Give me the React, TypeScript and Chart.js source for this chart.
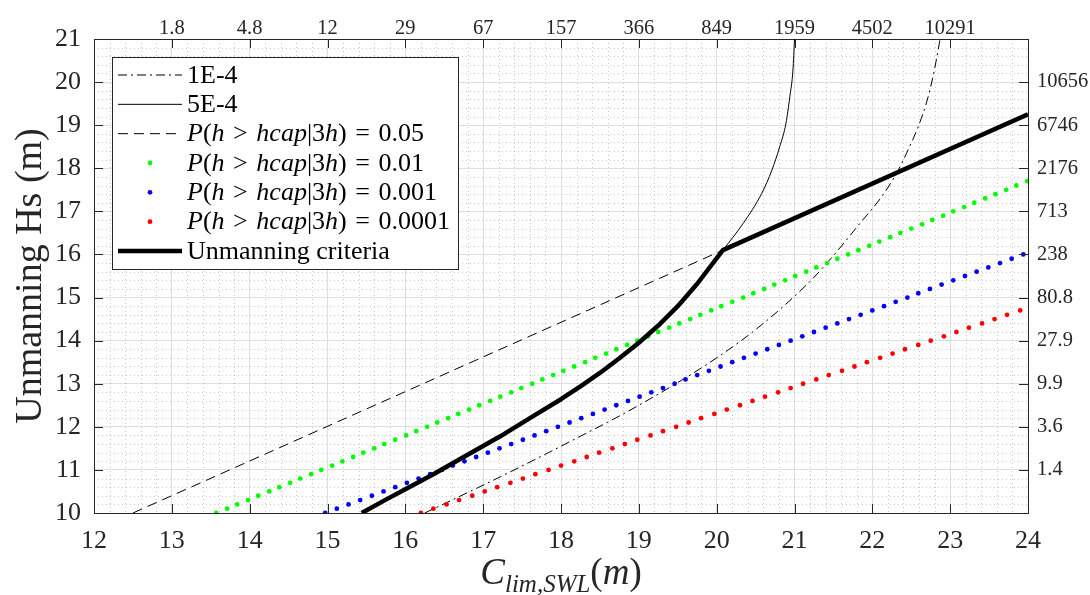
import React, { useEffect, useRef } from "react";
import { Chart, registerables } from "chart.js";

Chart.register(...registerables);

// ---------- axis ranges & tick labels ----------
const X_MIN = 12;
const X_MAX = 24;
const Y_MIN = 10;
const Y_MAX = 21;

const TOP_TICK_POS = [13, 14, 15, 16, 17, 18, 19, 20, 21, 22, 23];
const TOP_TICK_LABELS = ["1.8", "4.8", "12", "29", "67", "157", "366", "849", "1959", "4502", "10291"];
const RIGHT_TICK_POS = [11, 12, 13, 14, 15, 16, 17, 18, 19, 20];
const RIGHT_TICK_LABELS = ["1.4", "3.6", "9.9", "27.9", "80.8", "238", "713", "2176", "6746", "10656"];

// ---------- series ----------
// 1E-4 (dash-dot)
const P1E4_C = [16.25, 17.22, 18.0, 19.0, 20.0, 20.6, 21.24, 21.54, 21.84, 22.12, 22.31, 22.44, 22.59, 22.7, 22.78, 22.83, 22.87];
const P1E4_HS = [10, 10.84, 11.55, 12.5, 13.6, 14.4, 15.45, 16.06, 16.72, 17.34, 17.88, 18.35, 18.97, 19.55, 20.13, 20.59, 21.0];

// 5E-4 (thin solid)
const P5E4_C = [15.44, 15.75, 16.0, 16.36, 16.75, 17.22, 17.6, 18.0, 18.25, 18.5, 18.75, 19.0, 19.25, 19.5, 19.75, 20.08, 20.34, 20.58, 20.71, 20.81, 20.89, 20.94, 20.98, 21.0];
const P5E4_HS = [10, 10.31, 10.55, 10.9, 11.3, 11.78, 12.2, 12.64, 12.94, 13.25, 13.59, 13.95, 14.35, 14.8, 15.32, 16.1, 16.72, 17.42, 17.96, 18.5, 19.04, 19.66, 20.28, 21.0];

// P = 0.05 (dashed)
const P005_C = [12.5, 20.08];
const P005_HS = [10, 16.1];

// Hs levels of the dotted series
const HS_LEVELS = [
  10.0, 10.1, 10.2, 10.3, 10.4, 10.5, 10.6, 10.7, 10.8, 10.9,
  11.0, 11.1, 11.2, 11.3, 11.4, 11.5, 11.6, 11.7, 11.8, 11.9,
  12.0, 12.1, 12.2, 12.3, 12.4, 12.5, 12.6, 12.7, 12.8, 12.9,
  13.0, 13.1, 13.2, 13.3, 13.4, 13.5, 13.6, 13.7, 13.8, 13.9,
  14.0, 14.1, 14.2, 14.3, 14.4, 14.5, 14.6, 14.7, 14.8, 14.9,
  15.0, 15.1, 15.2, 15.3, 15.4, 15.5, 15.6, 15.7, 15.8, 15.9,
  16.0, 16.1, 16.2, 16.3, 16.4, 16.5, 16.6, 16.7, 16.8, 16.9,
  17.0, 17.1, 17.2, 17.3, 17.4, 17.5, 17.6, 17.7,
];

// P = 0.01 (green dots)
const P001_C = [
  13.57, 13.71, 13.84, 13.98, 14.11, 14.25, 14.38, 14.52, 14.65, 14.79,
  14.92, 15.06, 15.19, 15.33, 15.46, 15.6, 15.73, 15.87, 16.01, 16.14,
  16.28, 16.41, 16.55, 16.68, 16.82, 16.95, 17.09, 17.22, 17.36, 17.49,
  17.63, 17.76, 17.9, 18.03, 18.17, 18.31, 18.44, 18.58, 18.71, 18.85,
  18.98, 19.12, 19.25, 19.39, 19.52, 19.66, 19.79, 19.93, 20.06, 20.2,
  20.34, 20.47, 20.61, 20.74, 20.88, 21.01, 21.15, 21.28, 21.42, 21.55,
  21.69, 21.82, 21.96, 22.09, 22.23, 22.36, 22.5, 22.64, 22.77, 22.91,
  23.04, 23.18, 23.31, 23.45, 23.58, 23.72, 23.85, 23.99,
];

// P = 0.001 (blue dots)
const P0001_C = [
  14.97, 15.12, 15.27, 15.42, 15.57, 15.72, 15.87, 16.02, 16.17, 16.32,
  16.47, 16.61, 16.76, 16.91, 17.06, 17.21, 17.36, 17.51, 17.66, 17.81,
  17.96, 18.11, 18.26, 18.41, 18.56, 18.71, 18.86, 19.01, 19.16, 19.31,
  19.46, 19.6, 19.75, 19.9, 20.05, 20.2, 20.35, 20.5, 20.65, 20.8,
  20.95, 21.1, 21.25, 21.4, 21.55, 21.7, 21.85, 22.0, 22.15, 22.3,
  22.45, 22.59, 22.74, 22.89, 23.04, 23.19, 23.34, 23.49, 23.64, 23.79,
  23.94,
];

// P = 0.0001 (red dots)
const P00001_C = [
  16.2, 16.36, 16.53, 16.69, 16.86, 17.02, 17.18, 17.35, 17.51, 17.67,
  17.84, 18.0, 18.17, 18.33, 18.49, 18.66, 18.82, 18.98, 19.15, 19.31,
  19.48, 19.64, 19.8, 19.97, 20.13, 20.3, 20.46, 20.62, 20.79, 20.95,
  21.11, 21.28, 21.44, 21.61, 21.77, 21.93, 22.1, 22.26, 22.42, 22.59,
  22.75, 22.92, 23.08, 23.24, 23.41, 23.57, 23.73, 23.9,
];

// Unmanning criteria (thick)
const UNMAN_C = [15.44, 15.75, 16.0, 16.36, 16.75, 17.22, 17.6, 18.0, 18.25, 18.5, 18.75, 19.0, 19.25, 19.5, 19.75, 20.08, 24.0];
const UNMAN_HS = [10, 10.31, 10.55, 10.9, 11.3, 11.78, 12.2, 12.64, 12.94, 13.25, 13.59, 13.95, 14.35, 14.8, 15.32, 16.1, 19.25];

// ---------- styles ----------
const FONT = "'Liberation Serif', 'Times New Roman', serif";
const AXIS_COLOR = "#262626";

const zip = (xs: number[], ys: number[]) => xs.map((x, i) => ({ x, y: ys[i] }));

function drawRich(ctx: CanvasRenderingContext2D, text: string, x: number, y: number, size: number, math: boolean) {
  if (!math) {
    ctx.font = `${size}px ${FONT}`;
    ctx.fillText(text, x, y);
    return;
  }
  const parts = text.match(/[A-Za-z]+|[^A-Za-z]+/g) || [];
  let cx = x;
  for (const p of parts) {
    const it = /[A-Za-z]/.test(p);
    ctx.font = `${it ? "italic " : ""}${size}px ${FONT}`;
    if (it) {
      ctx.fillText(p, cx, y);
      cx += ctx.measureText(p).width;
    } else {
      for (const ch of p) {
        if (ch === " ") {
          cx += size * 0.33;
        } else {
          ctx.fillText(ch, cx, y);
          cx += ctx.measureText(ch).width;
        }
      }
    }
  }
}

const decorPlugin = {
  id: "decor",
  beforeDatasetsDraw(chart: any) {
    const { ctx, chartArea: a, scales } = chart;
    const xs = scales.x;
    const ys = scales.y;
    ctx.save();
    ctx.strokeStyle = "rgba(38,38,38,0.24)";
    ctx.lineWidth = 1;
    ctx.setLineDash([1, 3]);
    for (let v = X_MIN; v < X_MAX; v += 1) {
      for (let k = 1; k < 5; k++) {
        const px = Math.round(xs.getPixelForValue(v + k * 0.2)) + 0.5;
        ctx.beginPath();
        ctx.moveTo(px, a.top);
        ctx.lineTo(px, a.bottom);
        ctx.stroke();
      }
    }
    for (let v = Y_MIN; v < Y_MAX; v += 1) {
      for (let k = 1; k < 5; k++) {
        const py = Math.round(ys.getPixelForValue(v + k * 0.2)) + 0.5;
        ctx.beginPath();
        ctx.moveTo(a.left, py);
        ctx.lineTo(a.right, py);
        ctx.stroke();
      }
    }
    ctx.restore();
  },
  afterDatasetsDraw(chart: any) {
    const { ctx, chartArea: a, scales } = chart;
    const xs = scales.x;
    const ys = scales.y;
    const TL = 9;
    ctx.save();
    ctx.strokeStyle = AXIS_COLOR;
    ctx.lineWidth = 1;
    ctx.setLineDash([]);
    for (let v = X_MIN + 1; v < X_MAX; v += 1) {
      const px = Math.round(xs.getPixelForValue(v)) + 0.5;
      ctx.beginPath();
      ctx.moveTo(px, a.bottom);
      ctx.lineTo(px, a.bottom - TL);
      ctx.moveTo(px, a.top);
      ctx.lineTo(px, a.top + TL);
      ctx.stroke();
    }
    for (let v = Y_MIN + 1; v < Y_MAX; v += 1) {
      const py = Math.round(ys.getPixelForValue(v)) + 0.5;
      ctx.beginPath();
      ctx.moveTo(a.left, py);
      ctx.lineTo(a.left + TL, py);
      ctx.moveTo(a.right, py);
      ctx.lineTo(a.right - TL, py);
      ctx.stroke();
    }
    ctx.restore();
  },
  afterDraw(chart: any) {
    const { ctx, chartArea: a } = chart;
    ctx.save();
    // ----- legend -----
    const bx = a.left + 18;
    const by = a.top + 18;
    const bw = 346;
    const bh = 212;
    ctx.fillStyle = "#ffffff";
    ctx.fillRect(bx, by, bw, bh);
    ctx.strokeStyle = AXIS_COLOR;
    ctx.lineWidth = 1;
    ctx.setLineDash([]);
    ctx.strokeRect(Math.round(bx) + 0.5, Math.round(by) + 0.5, bw, bh);
    const dsets = chart.data.datasets;
    dsets.forEach((ds: any, i: number) => {
      const ry = by + 18 + i * 29.33;
      const x0 = bx + 6;
      const x1 = bx + 70;
      if (ds.showLine) {
        ctx.strokeStyle = ds.borderColor;
        ctx.lineWidth = ds.borderWidth;
        ctx.setLineDash(ds.borderDash || []);
        ctx.beginPath();
        ctx.moveTo(x0, ry);
        ctx.lineTo(x1, ry);
        ctx.stroke();
        ctx.setLineDash([]);
      } else {
        ctx.fillStyle = ds.backgroundColor;
        ctx.beginPath();
        ctx.arc((x0 + x1) / 2, ry, ds.pointRadius, 0, Math.PI * 2);
        ctx.fill();
      }
      ctx.fillStyle = "#000000";
      ctx.textBaseline = "middle";
      ctx.textAlign = "left";
      drawRich(ctx, ds.label, bx + 75, ry + 1, 26, !!ds.mathLabel);
    });
    // ----- x-axis title: C_{lim,SWL}(m) -----
    const cx = (a.left + a.right) / 2;
    const base = 584;
    const big = 37;
    const small = 25;
    const segs = [
      { t: "C", f: `italic ${big}px ${FONT}`, dy: 0 },
      { t: "lim,SWL", f: `italic ${small}px ${FONT}`, dy: 8 },
      { t: "(", f: `${big}px ${FONT}`, dy: 0 },
      { t: "m", f: `italic ${big}px ${FONT}`, dy: 0 },
      { t: ")", f: `${big}px ${FONT}`, dy: 0 },
    ];
    let total = 0;
    segs.forEach((s) => {
      ctx.font = s.f;
      total += ctx.measureText(s.t).width;
    });
    let sx = cx - total / 2;
    ctx.fillStyle = AXIS_COLOR;
    ctx.textBaseline = "alphabetic";
    ctx.textAlign = "left";
    segs.forEach((s) => {
      ctx.font = s.f;
      ctx.fillText(s.t, sx, base + s.dy);
      sx += ctx.measureText(s.t).width;
    });
    ctx.restore();
  },
};

export default function App() {
  const ref = useRef<HTMLCanvasElement>(null);
  useEffect(() => {
    document.body.style.margin = "0";
    const tickFont = { family: FONT, size: 26 };
    const secFont = { family: FONT, size: 20.5 };
    const chart = new Chart(ref.current as HTMLCanvasElement, {
      type: "scatter",
      data: {
        datasets: [
          {
            label: "1E-4",
            data: zip(P1E4_C, P1E4_HS),
            showLine: true,
            borderColor: "#000000",
            borderWidth: 1,
            borderDash: [9, 4, 2, 4],
            pointRadius: 0,
            cubicInterpolationMode: "monotone",
            order: 6,
          },
          {
            label: "5E-4",
            data: zip(P5E4_C, P5E4_HS),
            showLine: true,
            borderColor: "#000000",
            borderWidth: 1,
            pointRadius: 0,
            cubicInterpolationMode: "monotone",
            order: 5,
          },
          {
            label: "P(h > hcap|3h) = 0.05",
            mathLabel: true,
            data: zip(P005_C, P005_HS),
            showLine: true,
            borderColor: "#000000",
            borderWidth: 1,
            borderDash: [10, 6],
            pointRadius: 0,
            order: 4,
          },
          {
            label: "P(h > hcap|3h) = 0.01",
            mathLabel: true,
            data: zip(P001_C, HS_LEVELS.slice(0, P001_C.length)),
            showLine: false,
            backgroundColor: "#00ff00",
            borderColor: "#00ff00",
            pointRadius: 2.4,
            pointBorderWidth: 0,
            order: 3,
          },
          {
            label: "P(h > hcap|3h) = 0.001",
            mathLabel: true,
            data: zip(P0001_C, HS_LEVELS.slice(0, P0001_C.length)),
            showLine: false,
            backgroundColor: "#0000ff",
            borderColor: "#0000ff",
            pointRadius: 2.4,
            pointBorderWidth: 0,
            order: 2,
          },
          {
            label: "P(h > hcap|3h) = 0.0001",
            mathLabel: true,
            data: zip(P00001_C, HS_LEVELS.slice(0, P00001_C.length)),
            showLine: false,
            backgroundColor: "#ff0000",
            borderColor: "#ff0000",
            pointRadius: 2.4,
            pointBorderWidth: 0,
            order: 1,
          },
          {
            label: "Unmanning criteria",
            data: zip(UNMAN_C, UNMAN_HS),
            showLine: true,
            borderColor: "#000000",
            borderWidth: 4.5,
            pointRadius: 0,
            tension: 0,
            borderJoinStyle: "round",
            order: 0,
          },
        ] as any,
      },
      options: {
        responsive: false,
        animation: false,
        events: [],
        layout: { padding: 0 },
        plugins: {
          legend: { display: false },
          tooltip: { enabled: false },
          title: { display: false },
        },
        scales: {
          x: {
            type: "linear",
            position: "bottom",
            min: X_MIN,
            max: X_MAX,
            ticks: { stepSize: 1, font: tickFont, color: AXIS_COLOR, padding: 13, maxRotation: 0, autoSkip: false },
            grid: { color: "#dedede", lineWidth: 1, drawTicks: false },
            border: { color: AXIS_COLOR, width: 1 },
            afterFit: (s: any) => {
              s.height = 82;
            },
          },
          x2: {
            type: "linear",
            position: "top",
            min: X_MIN,
            max: X_MAX,
            ticks: {
              stepSize: 1,
              font: secFont,
              color: AXIS_COLOR,
              padding: -2,
              maxRotation: 0,
              autoSkip: false,
              callback: (v: any) => {
                const i = TOP_TICK_POS.indexOf(Number(v));
                return i >= 0 ? TOP_TICK_LABELS[i] : "";
              },
            },
            grid: { display: false, drawTicks: false },
            border: { display: true, color: AXIS_COLOR, width: 1 },
            afterFit: (s: any) => {
              s.height = 39;
            },
          },
          y: {
            type: "linear",
            position: "left",
            min: Y_MIN,
            max: Y_MAX,
            ticks: { stepSize: 1, font: tickFont, color: AXIS_COLOR, padding: 13, autoSkip: false },
            grid: { color: "#dedede", lineWidth: 1, drawTicks: false },
            border: { color: AXIS_COLOR, width: 1 },
            title: {
              display: true,
              text: "Unmanning Hs (m)",
              font: { family: FONT, size: 38 },
              color: AXIS_COLOR,
              padding: { top: 8, bottom: 0 },
            },
            afterFit: (s: any) => {
              s.width = 94;
            },
          },
          y2: {
            type: "linear",
            position: "right",
            min: Y_MIN,
            max: Y_MAX,
            ticks: {
              stepSize: 1,
              font: secFont,
              color: AXIS_COLOR,
              padding: 9,
              autoSkip: false,
              callback: (v: any) => {
                const i = RIGHT_TICK_POS.indexOf(Number(v));
                return i >= 0 ? RIGHT_TICK_LABELS[i] : "";
              },
            },
            grid: { display: false, drawTicks: false },
            border: { display: true, color: AXIS_COLOR, width: 1 },
            afterFit: (s: any) => {
              s.width = 62;
            },
          },
        },
      } as any,
      plugins: [decorPlugin],
    });
    return () => chart.destroy();
  }, []);
  return (
    <div style={{ width: 1090, height: 595, background: "#ffffff" }}>
      <canvas ref={ref} width={1090} height={595} style={{ display: "block" }} />
    </div>
  );
}
